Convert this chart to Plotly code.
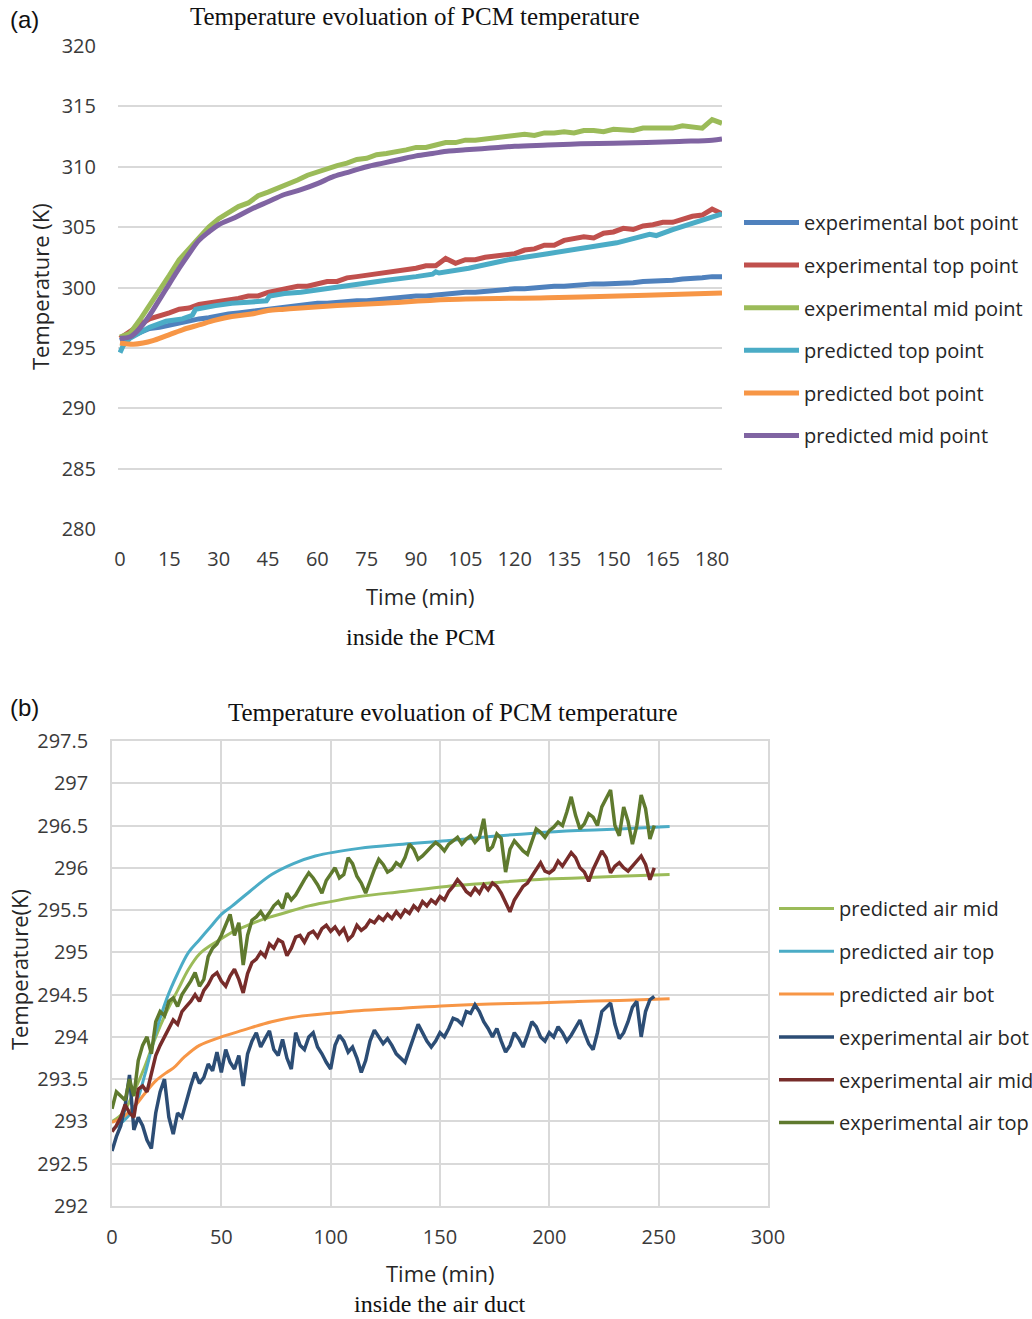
import plotly.graph_objects as go

W, H = 1032, 1319

# ---------------- (a) inside the PCM ----------------
t_exp_a = list(range(0, 184, 3))
exp_bot_a = [295.6, 295.9, 296.2, 296.6, 296.7, 296.9, 297.1, 297.2, 297.4, 297.5,
             297.7, 297.8, 297.9, 298.0, 298.1, 298.3, 298.3, 298.4, 298.5, 298.6,
             298.7, 298.7, 298.8, 298.8, 298.9, 298.9, 299.0, 299.0, 299.1, 299.2,
             299.3, 299.3, 299.4, 299.5, 299.5, 299.6, 299.6, 299.7, 299.8, 299.8,
             299.9, 299.9, 300.0, 300.0, 300.1, 300.1, 300.2, 300.2, 300.3, 300.3,
             300.3, 300.4, 300.4, 300.5, 300.5, 300.6, 300.6, 300.7, 300.7, 300.8,
             300.9, 300.9]
exp_top_a = [295.8, 296.4, 296.9, 297.4, 297.6, 297.9, 298.2, 298.3, 298.6, 298.7,
             298.9, 299.0, 299.1, 299.3, 299.3, 299.6, 299.8, 299.9, 300.1, 300.1,
             300.3, 300.5, 300.5, 300.8, 300.9, 301.0, 301.2, 301.2, 301.4, 301.5,
             301.6, 301.8, 301.8, 302.4, 302.0, 302.3, 302.3, 302.5, 302.6, 302.8,
             302.8, 303.1, 303.2, 303.5, 303.5, 303.9, 304.0, 304.2, 304.1, 304.5,
             304.6, 304.9, 304.8, 305.1, 305.2, 305.4, 305.4, 305.7, 305.9, 306.0,
             306.5, 306.1]
exp_mid_a = [295.9, 296.2, 297.3, 298.5, 299.8, 301.0, 302.3, 303.2, 304.1, 305.0,
             305.7, 306.2, 306.7, 307.0, 307.6, 307.9, 308.2, 308.6, 308.9, 309.3,
             309.6, 309.9, 310.1, 310.3, 310.6, 310.7, 311.0, 311.1, 311.2, 311.4,
             311.6, 311.6, 311.8, 312.0, 312.0, 312.2, 312.2, 312.3, 312.4, 312.5,
             312.5, 312.7, 312.6, 312.8, 312.8, 312.9, 312.8, 313.0, 313.0, 312.9,
             313.1, 313.1, 313.0, 313.2, 313.2, 313.3, 313.2, 313.4, 313.3, 313.2,
             313.9, 313.6]

t_pred_top_a = [0, 1, 3, 6, 9, 14, 19, 22, 23, 29, 34, 40, 44.5, 45.5, 50, 55, 60, 66,
                70, 81, 90, 95, 96, 97, 106, 118, 130, 143, 151, 161, 163, 168, 174, 183]
pred_top_a = [294.6, 295.2, 295.8, 296.3, 296.7, 297.2, 297.4, 297.7, 298.2, 298.5,
              298.7, 298.8, 298.9, 299.3, 299.5, 299.6, 299.8, 300.1, 300.2, 300.6,
              300.9, 301.1, 301.3, 301.2, 301.6, 302.3, 302.8, 303.3, 303.7, 304.4,
              304.3, 304.8, 305.3, 306.1]

t_pred_bot_a = [0, 4, 7, 10, 14, 19, 24, 29, 34, 40, 45, 50, 55, 66, 80, 100, 130, 160, 183]
pred_bot_a = [295.4, 295.3, 295.4, 295.6, 296.0, 296.5, 296.9, 297.3, 297.6, 297.8,
              298.1, 298.2, 298.3, 298.5, 298.7, 299.0, 299.15, 299.35, 299.55]

t_pred_mid_a = [0, 3, 6, 9, 12, 15, 18, 21, 24, 27, 30, 35, 40, 45, 50, 55, 60, 65, 70,
                75, 80, 85, 90, 95, 100, 105, 110, 115, 120, 130, 140, 150, 160, 170, 180, 183]
pred_mid_a = [295.8, 295.9, 296.6, 297.7, 299.0, 300.3, 301.6, 302.8, 303.9, 304.6,
              305.2, 305.8, 306.5, 307.1, 307.7, 308.1, 308.6, 309.2, 309.6, 310.0,
              310.3, 310.6, 310.9, 311.1, 311.3, 311.4, 311.5, 311.6, 311.7, 311.8,
              311.9, 311.95, 312.0, 312.1, 312.2, 312.3]

x_ticks_a = list(range(0, 181, 15))
y_ticks_a = [280, 285, 290, 295, 300, 305, 310, 315, 320]

# ---------------- (b) inside the air duct ----------------
t_pred_b_mid = [0, 5, 10, 15, 20, 25, 30, 35, 40, 45, 50, 55, 63, 70, 78, 90, 100, 113,
                133, 153, 173, 193, 213, 232, 255]
pred_air_mid = [293.0, 293.1, 293.35, 293.65, 294.0, 294.3, 294.55, 294.8, 294.98, 295.08,
                295.16, 295.24, 295.33, 295.4, 295.46, 295.55, 295.6, 295.66, 295.72,
                295.78, 295.82, 295.86, 295.88, 295.9, 295.92]
t_pred_b_top = [0, 5, 10, 15, 20, 25, 30, 35, 40, 45, 50, 55, 63, 73, 83, 93, 113, 133,
                153, 173, 193, 213, 232, 255]
pred_air_top = [292.9, 293.0, 293.15, 293.55, 294.05, 294.45, 294.75, 295.0, 295.15, 295.3,
                295.45, 295.55, 295.72, 295.92, 296.05, 296.14, 296.23, 296.28, 296.32,
                296.37, 296.41, 296.44, 296.46, 296.49]
t_pred_b_bot = [0, 5, 10, 15, 20, 25, 28, 33, 40, 50, 60, 73, 85, 100, 113, 133, 153,
                173, 193, 213, 232, 255]
pred_air_bot = [292.99, 293.05, 293.17, 293.33, 293.48, 293.58, 293.63, 293.76, 293.9,
                294.0, 294.08, 294.18, 294.24, 294.28, 294.31, 294.34, 294.37, 294.39,
                294.4, 294.42, 294.43, 294.45]

t_exp_b = list(range(0, 249, 2))
exp_air_bot = [292.65, 292.82, 292.95, 293.18, 293.55, 292.9, 293.05, 292.95, 292.78, 292.68,
               293.1, 293.35, 293.5, 293.05, 292.85, 293.1, 293.05, 293.25, 293.42, 293.58,
               293.45, 293.52, 293.68, 293.6, 293.82, 293.58, 293.85, 293.7, 293.62, 293.78,
               293.42, 293.8, 293.95, 294.05, 293.88, 293.98, 294.07, 293.85, 293.78, 293.97,
               293.75, 293.62, 294.05, 293.9, 293.85, 294.0, 294.05, 293.88, 293.8, 293.7,
               293.62, 293.9, 294.02, 293.95, 293.82, 293.88, 293.75, 293.58, 293.72, 293.95,
               294.08, 294.0, 293.92, 293.98, 293.9, 293.8, 293.75, 293.7, 293.85, 294.0,
               294.15, 294.05, 293.95, 293.88, 293.95, 294.05, 294.0, 294.1, 294.22, 294.2,
               294.15, 294.3, 294.28, 294.38, 294.3, 294.18, 294.1, 294.0, 294.1, 293.95,
               293.82, 293.9, 294.05, 293.98, 293.88, 294.02, 294.18, 294.12, 294.0, 293.95,
               294.05, 294.0, 294.12, 294.05, 293.95, 294.02, 294.12, 294.2, 294.05, 293.92,
               293.85, 294.05, 294.3, 294.35, 294.4, 294.15, 293.98, 294.05, 294.18, 294.35,
               294.42, 294.0, 294.3, 294.44, 294.48]
exp_air_mid = [292.88, 292.95, 293.05, 293.2, 293.1, 293.05, 293.38, 293.42, 293.35, 293.55,
               293.78, 293.9, 294.0, 294.08, 294.2, 294.15, 294.3, 294.36, 294.42, 294.5,
               294.42, 294.55, 294.62, 294.72, 294.76, 294.66, 294.6, 294.72, 294.8, 294.68,
               294.52, 294.75, 294.88, 294.92, 295.0, 294.95, 295.1, 295.05, 295.15, 295.12,
               294.96, 295.05, 295.18, 295.2, 295.12, 295.22, 295.25, 295.18, 295.28, 295.32,
               295.25, 295.3, 295.22, 295.28, 295.15, 295.2, 295.32, 295.26, 295.3, 295.38,
               295.35, 295.42, 295.38, 295.45, 295.4, 295.48, 295.42, 295.5, 295.46, 295.55,
               295.5, 295.6, 295.55, 295.62, 295.58, 295.66, 295.62, 295.72, 295.78, 295.86,
               295.8, 295.72, 295.68, 295.76, 295.7, 295.8, 295.74, 295.82, 295.78, 295.7,
               295.6, 295.48, 295.62, 295.7, 295.78, 295.82, 295.9, 295.98, 296.06, 295.96,
               295.94, 295.98, 296.08, 296.02, 296.1, 296.18, 296.12, 296.0, 295.95, 295.84,
               295.98, 296.08, 296.2, 296.12, 295.94, 296.02, 296.06, 296.0, 295.96, 296.02,
               296.08, 296.14, 296.04, 295.86, 296.0]
exp_air_top = [293.15, 293.35, 293.3, 293.25, 293.5, 293.3, 293.72, 293.9, 294.0, 293.8,
               294.18, 294.3, 294.25, 294.42, 294.46, 294.36, 294.5, 294.58, 294.66, 294.76,
               294.6, 294.68, 294.95, 295.05, 295.1, 295.2, 295.32, 295.45, 295.2, 295.35,
               294.85, 295.2, 295.38, 295.42, 295.48, 295.4, 295.47, 295.55, 295.6, 295.52,
               295.7, 295.62, 295.68, 295.78, 295.86, 295.94, 295.88, 295.8, 295.7, 295.85,
               295.92, 296.0, 295.88, 295.92, 296.12, 296.05, 295.9, 295.82, 295.7, 295.85,
               295.98, 296.1, 296.04, 295.95, 295.98, 296.06, 296.02, 296.12, 296.28, 296.22,
               296.1, 296.14, 296.2, 296.25, 296.3, 296.26, 296.2, 296.28, 296.32, 296.36,
               296.28, 296.34, 296.38, 296.3, 296.36, 296.58, 296.2, 296.25, 296.4, 296.35,
               295.95, 296.22, 296.32, 296.26, 296.2, 296.16, 296.3, 296.46, 296.42, 296.36,
               296.44, 296.48, 296.54, 296.5, 296.66, 296.84, 296.62, 296.46, 296.52, 296.64,
               296.6, 296.5, 296.72, 296.82, 296.92, 296.5, 296.38, 296.72, 296.55, 296.28,
               296.5, 296.86, 296.7, 296.34, 296.5]

x_ticks_b = [0, 50, 100, 150, 200, 250, 300]
y_ticks_b = [292, 292.5, 293, 293.5, 294, 294.5, 295, 295.5, 296, 296.5, 297, 297.5]
y_ticktext_b = ["292", "292.5", "293", "293.5", "294", "294.5", "295", "295.5",
                "296", "296.5", "297", "297.5"]

# ---------------- figure ----------------
def fx(px):
    return px / W

def fy(py):
    return 1 - py / H

SANS = "Open Sans"
SERIF = "Liberation Serif"
GRID = "#D9D9D9"
TXT = "#262626"

fig = go.Figure()

top_series = [
    ("experimental bot point", t_exp_a, exp_bot_a, "#4F81BD", "linear"),
    ("experimental top point", t_exp_a, exp_top_a, "#C0504D", "linear"),
    ("experimental mid point", t_exp_a, exp_mid_a, "#9BBB59", "linear"),
    ("predicted top point", t_pred_top_a, pred_top_a, "#4BACC6", "linear"),
    ("predicted bot point", t_pred_bot_a, pred_bot_a, "#F79646", "spline"),
    ("predicted mid point", t_pred_mid_a, pred_mid_a, "#8064A2", "spline"),
]
for name, xs, ys, col, shp in top_series:
    assert len(xs) == len(ys), name
    fig.add_trace(go.Scatter(x=xs, y=ys, name=name, mode="lines",
                             line=dict(color=col, width=5, shape=shp),
                             xaxis="x", yaxis="y", legend="legend", legendgroup=name))

bot_series = [
    ("predicted air mid", t_pred_b_mid, pred_air_mid, "#9BBB59", "spline", 3),
    ("predicted air top", t_pred_b_top, pred_air_top, "#4BACC6", "spline", 3),
    ("predicted air bot", t_pred_b_bot, pred_air_bot, "#F79646", "spline", 3),
    ("experimental air bot", t_exp_b, exp_air_bot, "#2C4D75", "linear", 3.5),
    ("experimental air mid", t_exp_b, exp_air_mid, "#772C2A", "linear", 3.5),
    ("experimental air top", t_exp_b, exp_air_top, "#5F7A2E", "linear", 3.5),
]
for name, xs, ys, col, shp, lw in bot_series:
    assert len(xs) == len(ys), name
    fig.add_trace(go.Scatter(x=xs, y=ys, name=name, mode="lines",
                             line=dict(color=col, width=lw, shape=shp),
                             xaxis="x2", yaxis="y2", legend="legend2", legendgroup=name))

tickfont = dict(family=SANS, size=20, color="#3A3A3A")

annotations = [
    dict(text="(a)", x=fx(24), y=fy(20), font=dict(family="Liberation Sans", size=24, color="#111")),
    dict(text="Temperature evoluation of PCM temperature", x=fx(415), y=fy(17),
         font=dict(family=SERIF, size=25, color="#111")),
    dict(text="Temperature (K)", x=fx(40), y=fy(287), textangle=-90,
         font=dict(family=SANS, size=22, color=TXT)),
    dict(text="Time (min)", x=fx(420), y=fy(596), font=dict(family=SANS, size=22, color=TXT)),
    dict(text="inside the PCM", x=fx(420), y=fy(637), font=dict(family=SERIF, size=24, color="#111")),
    dict(text="(b)", x=fx(24), y=fy(707), font=dict(family="Liberation Sans", size=24, color="#111")),
    dict(text="Temperature evoluation of PCM temperature", x=fx(453), y=fy(712),
         font=dict(family=SERIF, size=25, color="#111")),
    dict(text="Temperature(K)", x=fx(19), y=fy(970), textangle=-90,
         font=dict(family=SANS, size=22, color=TXT)),
    dict(text="Time (min)", x=fx(440), y=fy(1273), font=dict(family=SANS, size=22, color=TXT)),
    dict(text="inside the air duct", x=fx(440), y=fy(1304), font=dict(family=SERIF, size=24, color="#111")),
]
for a in annotations:
    a.update(xref="paper", yref="paper", xanchor="center", yanchor="middle", showarrow=False)

fig.update_layout(
    width=W, height=H, autosize=False,
    margin=dict(l=0, r=0, t=0, b=0, autoexpand=False),
    paper_bgcolor="white", plot_bgcolor="white",
    font=dict(family=SANS, color=TXT),
    showlegend=True,
    annotations=annotations,
    xaxis=dict(domain=[fx(118), fx(722)], range=[-0.6, 183.0], anchor="y",
               tickmode="array", tickvals=x_ticks_a, showgrid=False, zeroline=False,
               showline=False, ticks="", tickfont=tickfont, ticklabelstandoff=16),
    yaxis=dict(domain=[fy(529), fy(46)], range=[280, 320], anchor="x",
               tickmode="array", tickvals=y_ticks_a, showgrid=True, gridcolor=GRID,
               gridwidth=1.5, zeroline=False, showline=False, ticks="",
               tickfont=tickfont, ticklabelstandoff=21),
    xaxis2=dict(domain=[fx(112), fx(768)], range=[0, 300], anchor="y2",
                tickmode="array", tickvals=x_ticks_b, showgrid=True, gridcolor=GRID,
                gridwidth=1.5, zeroline=False, showline=True, mirror=True,
                linecolor=GRID, linewidth=1.5, ticks="", tickfont=tickfont,
                ticklabelstandoff=12),
    yaxis2=dict(domain=[fy(1206), fy(741)], range=[292, 297.5], anchor="x2",
                tickmode="array", tickvals=y_ticks_b, ticktext=y_ticktext_b,
                showgrid=True, gridcolor=GRID, gridwidth=1.5, zeroline=False,
                showline=True, mirror=True, linecolor=GRID, linewidth=1.5, ticks="",
                tickfont=tickfont, ticklabelstandoff=18),
    legend=dict(x=fx(739), y=fy(203), xanchor="left", yanchor="top",
                font=dict(family=SANS, size=20, color=TXT), traceorder="grouped",
                tracegroupgap=13.6, itemwidth=55, bgcolor="rgba(0,0,0,0)"),
    legend2=dict(x=fx(774), y=fy(889), xanchor="left", yanchor="top",
                 font=dict(family=SANS, size=20, color=TXT), traceorder="grouped",
                 tracegroupgap=13.8, itemwidth=55, bgcolor="rgba(0,0,0,0)"),
)

fig.write_html("out.html")
